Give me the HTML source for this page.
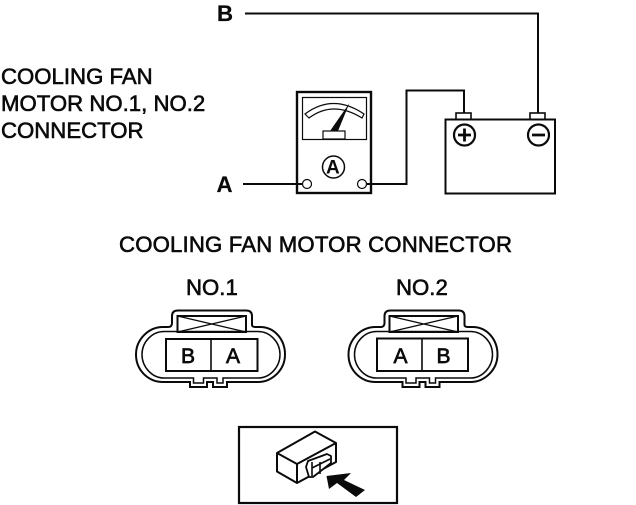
<!DOCTYPE html>
<html><head><meta charset="utf-8"><style>
html,body{margin:0;padding:0;background:#fff}
svg{display:block}
text{font-family:"Liberation Sans",sans-serif;font-size:22.2px;fill:#0a0a0a;stroke:#0a0a0a;stroke-width:.6}
</style></head><body>
<svg width="636" height="505" viewBox="0 0 636 505" xmlns="http://www.w3.org/2000/svg">
<text x="1" y="84">COOLING FAN</text>
<text x="1" y="111">MOTOR NO.1, NO.2</text>
<text x="1" y="138">CONNECTOR</text>
<text x="119" y="252" textLength="393" lengthAdjust="spacing">COOLING FAN MOTOR CONNECTOR</text>
<text x="186" y="295">NO.1</text>
<text x="396" y="295">NO.2</text>
<text x="217" y="21" style="font-weight:bold;stroke-width:.2">B</text>
<text x="216.500" y="192" style="font-weight:bold;stroke-width:.2">A</text>
<g fill="none" stroke="#0a0a0a" stroke-width="2">
<!-- wires -->
<path d="M245 13.500H538V113"/>
<path d="M243 184H303"/>
<path d="M366 184H406.500V90.500H464V113"/>
<!-- meter -->
<rect x="297" y="92" width="74" height="101" stroke-width="2.400"/>
<rect x="302.500" y="97.500" width="64" height="42" stroke-width="1.200"/>
<path d="M305 114Q333 93 364 114L362 118Q333 100 309 118Z" stroke-width="1.200"/>
<rect x="323" y="131" width="22" height="8" stroke-width="1.200" fill="#fff"/>
<circle cx="333.500" cy="167" r="11" stroke-width="1.500"/>
<circle cx="307" cy="184" r="4.500" stroke-width="1.200" fill="#fff"/>
<circle cx="362" cy="184" r="4.500" stroke-width="1.200" fill="#fff"/>
<!-- battery -->
<rect x="445.500" y="119.500" width="109.500" height="74"/>
<rect x="456" y="113" width="15" height="6.500" stroke-width="1.600"/>
<rect x="530" y="113" width="15" height="6.500" stroke-width="1.600"/>
<circle cx="464.500" cy="135" r="10.500" stroke-width="2.200"/>
<circle cx="538.500" cy="135" r="10.500" stroke-width="2.200"/>
<path d="M458 135H471M464.500 128.500V141.500M532 135H545" stroke-width="2.800"/>
<!-- bottom box -->
<rect x="239" y="427" width="158" height="76" stroke-width="2.200"/>
<path d="M315 431.500L277 453V471.500L297 483L336 462V443ZM277 453L297 464V483M297 464L336 443" stroke-width="2" stroke-linejoin="round"/>
<path d="M306 467L308 461L327 454L331 456V463L313 477H309Z" fill="#fff" stroke-width="1.800" stroke-linejoin="round"/>
<path d="M312 468L330 459M320 462V474M312 462V476" stroke-width="1.600"/>
</g>
<!-- needle -->
<polygon points="330,131 338,131 349.500,103" fill="#0a0a0a"/>
<text x="326" y="173.500" style="font-weight:bold;font-size:19px;stroke-width:0">A</text>
<!-- arrow -->
<polygon points="326.500,476 351,473 344,480 365,490 356,497 337,483 329,489" fill="#0a0a0a"/>
<!-- connector 1 -->
<g fill="none" stroke="#0a0a0a">
<path d="M178 310.500H246Q252 310.500 252 316V325Q252 327 256 327H260C275 327 285 340 285 354.500C285 370 272 382 258 382H227V387H213V382H207V387H190V382H163C148 382 136 370 136 354.500C136 340 148 327 163 327H168Q172 327 172 323V316Q172 310.500 178 310.500Z" stroke-width="2"/>
<path d="M164 331.500H258C270 331.500 280 342 280 354.500C280 367 270 378 258 378H223V383H217V378H203.500V383H193.500V378H164C152 378 142 367 142 354.500C142 342 152 331.500 164 331.500Z" stroke-width="1.500"/>
<rect x="177.500" y="316" width="68.500" height="16" stroke-width="2"/>
<path d="M177.500 316L246 332M246 316L177.500 332" stroke-width="1.300"/>
<rect x="166" y="339" width="91.500" height="32" stroke-width="2" fill="#fff"/>
<path d="M211 339V371" stroke-width="1.600"/>
</g>
<text x="181" y="363" style="font-size:21px;stroke-width:.7">B</text>
<text x="226" y="363" style="font-size:21px;stroke-width:.7">A</text>
<!-- connector 2 -->
<g transform="translate(212.500 0)" fill="none" stroke="#0a0a0a">
<path d="M178 310.500H246Q252 310.500 252 316V325Q252 327 256 327H260C275 327 285 340 285 354.500C285 370 272 382 258 382H227V387H213V382H207V387H190V382H163C148 382 136 370 136 354.500C136 340 148 327 163 327H168Q172 327 172 323V316Q172 310.500 178 310.500Z" stroke-width="2"/>
<path d="M164 331.500H258C270 331.500 280 342 280 354.500C280 367 270 378 258 378H223V383H217V378H203.500V383H193.500V378H164C152 378 142 367 142 354.500C142 342 152 331.500 164 331.500Z" stroke-width="1.500"/>
<rect x="177" y="316" width="68.500" height="16" stroke-width="2"/>
<path d="M177 316L245.500 332M245.500 316L177 332" stroke-width="1.300"/>
<rect x="164.500" y="338.500" width="91" height="32.500" stroke-width="2" fill="#fff"/>
<path d="M209.500 338.500V371" stroke-width="1.600"/>
</g>
<text x="393.500" y="363" style="font-size:21px;stroke-width:.7">A</text>
<text x="436.500" y="363" style="font-size:21px;stroke-width:.7">B</text>
</svg>
</body></html>
